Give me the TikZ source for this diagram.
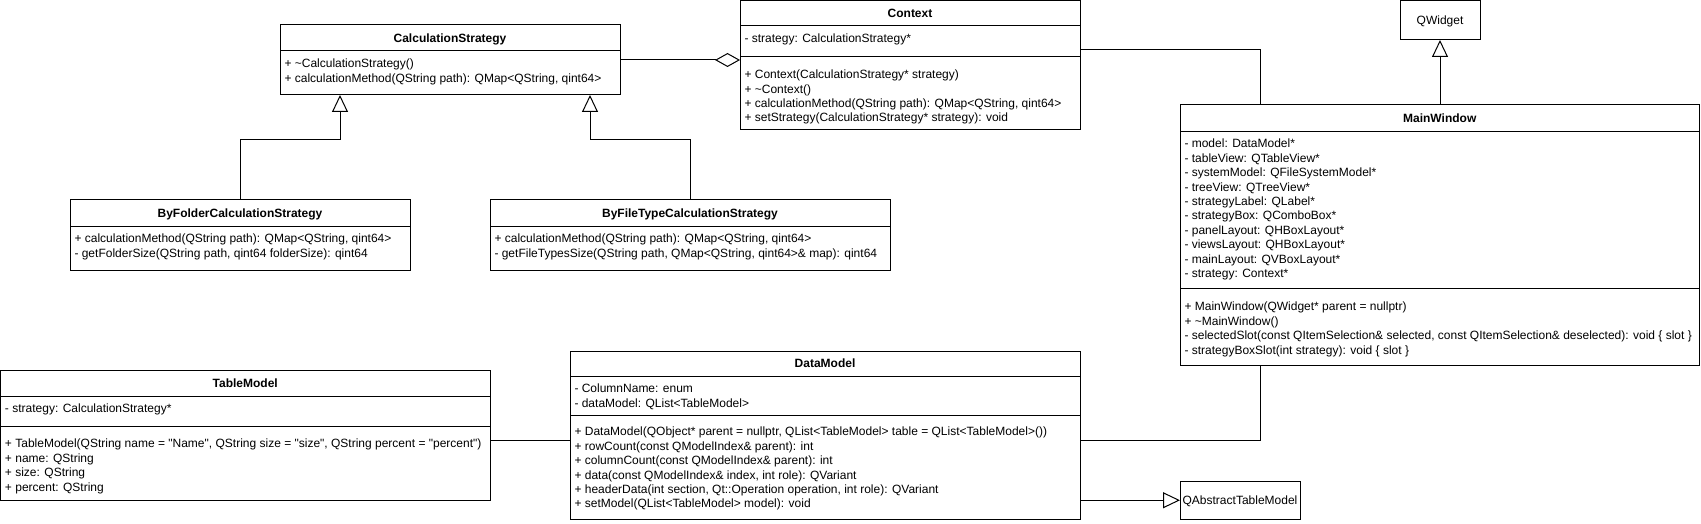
\documentclass[tikz,border=0pt]{standalone}
\usepackage{fontspec}
\setmainfont{Liberation Sans}[Ligatures=TeXOff]
\usetikzlibrary{arrows.meta}
\newcommand\firstln{\rule{0pt}{10pt}}
\begin{document}
\begin{tikzpicture}[x=1pt,y=-1pt,line width=1pt,
  umlbox/.style={draw,anchor=north west,inner sep=0pt,outer sep=0pt,fill=white},
  ttl/.style={font=\bfseries\fontsize{12}{14.4}\selectfont,anchor=base},
  plain/.style={font=\fontsize{12}{14.4}\selectfont,anchor=base},
  txt/.style={font=\fontsize{12}{14.4}\selectfont,align=left,anchor=north west,inner sep=0pt},
  inherit/.style={-{Triangle[open,length=17pt,width=16pt]}},
  aggr/.style={-{Diamond[open,length=25pt,width=14pt]}}]
\useasboundingbox (0,0) rectangle (1701,524);

% CalculationStrategy
\node[umlbox,minimum width=340pt,minimum height=70pt] (cs) at (280,25) {};
\draw (280,51) -- (620,51);
\node[ttl] (cs-t) at (450,42.3) {CalculationStrategy};
\node[txt] (cs-m) at (284,57.3) {\firstln+ \textasciitilde CalculationStrategy()\\+ calculationMethod(QString path): QMap<QString, qint64>};

% Context
\node[umlbox,minimum width=340pt,minimum height=129.5pt] (ctx) at (740,0.5) {};
\draw (740,26) -- (1080,26);
\draw (740,57) -- (1080,57);
\node[ttl] (ctx-t) at (910,17.5) {Context};
\node[txt] (ctx-a) at (744,32.3) {\firstln- strategy: CalculationStrategy*};
\node[txt] (ctx-m) at (744,68.3) {\firstln+ Context(CalculationStrategy* strategy)\\+ \textasciitilde Context()\\+ calculationMethod(QString path): QMap<QString, qint64>\\+ setStrategy(CalculationStrategy* strategy): void};

% QWidget
\node[umlbox,minimum width=80pt,minimum height=39.5pt] (qw) at (1400,0.5) {};
\node[plain] (qw-t) at (1440,24.5) {QWidget};

% MainWindow
\node[umlbox,minimum width=519.5pt,minimum height=260pt] (mw) at (1180,105) {};
\draw (1180,132) -- (1699.5,132);
\draw (1180,288) -- (1699.5,288);
\node[ttl] (mw-t) at (1439.75,122.8) {MainWindow};
\node[txt] (mw-a) at (1184,137.3) {\firstln- model: DataModel*\\- tableView: QTableView*\\- systemModel: QFileSystemModel*\\- treeView: QTreeView*\\- strategyLabel: QLabel*\\- strategyBox: QComboBox*\\- panelLayout: QHBoxLayout*\\- viewsLayout: QHBoxLayout*\\- mainLayout: QVBoxLayout*\\- strategy: Context*};
\node[txt] (mw-m) at (1184,300.3) {\firstln+ MainWindow(QWidget* parent = nullptr)\\+ \textasciitilde MainWindow()\\- selectedSlot(const QItemSelection\& selected, const QItemSelection\& deselected): void \{ slot \}\\- strategyBoxSlot(int strategy): void \{ slot \}};

% ByFolderCalculationStrategy
\node[umlbox,minimum width=340pt,minimum height=70pt] (bf) at (70,200) {};
\draw (70,226) -- (410,226);
\node[ttl] (bf-t) at (240,217.3) {ByFolderCalculationStrategy};
\node[txt] (bf-m) at (74,232.3) {\firstln+ calculationMethod(QString path): QMap<QString, qint64>\\- getFolderSize(QString path, qint64 folderSize): qint64};

% ByFileTypeCalculationStrategy
\node[umlbox,minimum width=400pt,minimum height=70pt] (bft) at (490,200) {};
\draw (490,226) -- (890,226);
\node[ttl] (bft-t) at (690,217.3) {ByFileTypeCalculationStrategy};
\node[txt] (bft-m) at (494,232.3) {\firstln+ calculationMethod(QString path): QMap<QString, qint64>\\- getFileTypesSize(QString path, QMap<QString, qint64>\& map): qint64};

% TableModel
\node[umlbox,minimum width=489.5pt,minimum height=130pt] (tm) at (0.5,370) {};
\draw (0.5,396) -- (490,396);
\draw (0.5,426) -- (490,426);
\node[ttl] (tm-t) at (245.25,387.3) {TableModel};
\node[txt] (tm-a) at (4.5,402.3) {\firstln- strategy: CalculationStrategy*};
\node[txt] (tm-m) at (4.5,437.3) {\firstln+ TableModel(QString name = "Name", QString size = "size", QString percent = "percent")\\+ name: QString\\+ size: QString\\+ percent: QString};

% DataModel
\node[umlbox,minimum width=510pt,minimum height=168.5pt] (dm) at (570,351) {};
\draw (570,376) -- (1080,376);
\draw (570,415) -- (1080,415);
\node[ttl] (dm-t) at (825,367.8) {DataModel};
\node[txt] (dm-a) at (574,382.3) {\firstln- ColumnName: enum\\- dataModel: QList<TableModel>};
\node[txt] (dm-m) at (574,425.3) {\firstln+ DataModel(QObject* parent = nullptr, QList<TableModel> table = QList<TableModel>())\\+ rowCount(const QModelIndex\& parent): int\\+ columnCount(const QModelIndex\& parent): int\\+ data(const QModelIndex\& index, int role): QVariant\\+ headerData(int section, Qt::Operation operation, int role): QVariant\\+ setModel(QList<TableModel> model): void};

% QAbstractTableModel
\node[umlbox,minimum width=120pt,minimum height=38.5pt] (qatm) at (1180,481) {};
\node[plain] (qatm-t) at (1240,504.5) {QAbstractTableModel};

% connectors
\draw[inherit] (bf.north) -- ++(0,-60) -| ([xshift=-110pt]cs.south);
\draw[inherit] (bft.north) -- ++(0,-60) -| ([xshift=140pt]cs.south);
\draw[aggr] (cs.east) -- (cs.east -| ctx.west);
\draw ([yshift=-49.5pt]ctx.north east) -| ([xshift=80pt]mw.north west);
\draw[inherit] (qw.south |- mw.north) -- (qw.south);
\draw ([yshift=-70pt]tm.north east) -- ([yshift=-89pt]dm.north west);
\draw ([yshift=-89pt]dm.north east) -| ([xshift=80pt]mw.south west);
\draw[inherit] (qatm.west -| dm.east) -- (qatm.west);
\end{tikzpicture}
\end{document}
